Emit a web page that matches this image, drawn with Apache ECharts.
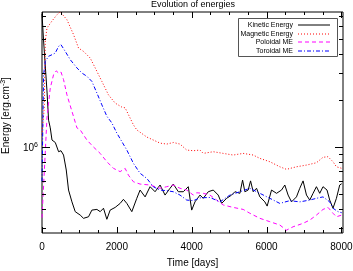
<!DOCTYPE html>
<html><head><meta charset="utf-8">
<script src="https://cdn.jsdelivr.net/npm/echarts@6/dist/echarts.min.js"></script>
<style>html,body{margin:0;padding:0;background:#fff}#c{width:353px;height:271px}</style>
</head><body><div id="c"></div>
<script>
// values in units of 1e6 erg.cm^-3, x in days
const kinetic = [[0,7.2],[43,4.83],[133,2.30],[176,1.49],[221,1.33],[267,1.11],[355,1.07],[443,0.933],[507,0.947],[576,0.888],[648,0.711],[709,0.528],[800,0.443],[888,0.383],[1021,0.364],[1109,0.347],[1243,0.355],[1333,0.392],[1467,0.396],[1555,0.383],[1643,0.403],[1733,0.342],[1821,0.392],[1955,0.408],[2088,0.433],[2176,0.46],[2267,0.433],[2400,0.383],[2533,0.467],[2621,0.528],[2755,0.477],[2888,0.555],[3021,0.515],[3155,0.569],[3288,0.49],[3421,0.542],[3509,0.577],[3643,0.515],[3776,0.515],[3909,0.555],[4000,0.392],[4088,0.443],[4221,0.49],[4309,0.467],[4443,0.515],[4576,0.528],[4709,0.49],[4800,0.433],[4933,0.467],[5067,0.49],[5155,0.515],[5288,0.503],[5360,0.612],[5421,0.515],[5509,0.528],[5573,0.605],[5643,0.515],[5733,0.542],[5821,0.477],[5955,0.443],[6016,0.416],[6133,0.528],[6267,0.503],[6400,0.528],[6488,0.569],[6576,0.49],[6667,0.443],[6800,0.477],[6888,0.542],[6976,0.605],[7067,0.49],[7155,0.455],[7243,0.503],[7333,0.555],[7421,0.503],[7509,0.555],[7616,0.528],[7688,0.455],[7776,0.403],[7867,0.467],[7955,0.569],[8008,0.58]];
const magnetic = [[0,1.2],[60,1.79],[88,4.83],[133,5.86],[267,6.5],[400,7.14],[488,7.45],[667,6.62],[843,5.31],[976,4.35],[1109,4.14],[1288,3.75],[1421,3.24],[1600,2.65],[1776,2.17],[1955,1.92],[2133,1.81],[2221,1.79],[2309,1.62],[2443,1.39],[2533,1.29],[2800,1.16],[3155,1.06],[3333,1.045],[3509,1.07],[3688,1.045],[3867,0.956],[4043,0.947],[4221,0.956],[4309,0.91],[4576,0.933],[4843,0.91],[5109,0.888],[5376,0.91],[5643,0.888],[5821,0.845],[6088,0.804],[6355,0.746],[6533,0.718],[6800,0.746],[7067,0.765],[7333,0.792],[7509,0.859],[7643,0.866],[7776,0.804],[7867,0.746],[8008,0.729]];
const poloidal = [[0,0.35],[133,1.54],[221,2.4],[309,2.93],[381,3.1],[443,3.0],[507,3.05],[576,2.72],[667,2.17],[800,1.7],[933,1.33],[1021,1.29],[1200,1.11],[1376,1.0],[1555,0.91],[1733,0.804],[1909,0.729],[2088,0.694],[2221,0.729],[2309,0.659],[2443,0.597],[2621,0.577],[2888,0.569],[3155,0.542],[3333,0.555],[3509,0.569],[3688,0.542],[3867,0.528],[4043,0.49],[4133,0.507],[4309,0.503],[4488,0.49],[4667,0.455],[4843,0.423],[5109,0.408],[5376,0.396],[5555,0.374],[5821,0.347],[6088,0.33],[6355,0.314],[6533,0.291],[6709,0.306],[6976,0.322],[7155,0.338],[7333,0.364],[7509,0.396],[7643,0.408],[7776,0.374],[7867,0.355],[8008,0.364]];
const toroidal = [[0,0.6],[43,2.93],[88,3.57],[176,3.85],[267,3.94],[355,4.04],[443,4.46],[507,4.57],[621,4.14],[755,3.66],[933,3.24],[1067,3.0],[1200,2.86],[1333,2.65],[1467,2.23],[1600,1.87],[1733,1.58],[1867,1.43],[2000,1.23],[2267,0.956],[2443,0.785],[2621,0.677],[2800,0.628],[2976,0.554],[3155,0.528],[3333,0.523],[3509,0.515],[3688,0.49],[3867,0.455],[4043,0.451],[4221,0.47],[4488,0.473],[4755,0.443],[5021,0.49],[5288,0.515],[5555,0.542],[5821,0.503],[6088,0.467],[6355,0.433],[6621,0.451],[6888,0.443],[7155,0.455],[7333,0.467],[7509,0.477],[7688,0.443],[7776,0.403],[7909,0.383],[8008,0.377]];

const seriesNames = ['Kinetic Energy','Magnetic Energy','Poloidal ME','Toroidal ME'];
const seriesColors = ['#000000','#ff0000','#ff00ff','#0000ff'];
const seriesDash = ['solid',[1,2],[4,3],[4,2,1,2]];
const xTickVals = [0,500,1000,1500,2000,2500,3000,3500,4000,4500,5000,5500,6000,6500,7000,7500,8000];
const xMajorTicks = [0,2000,4000,6000,8000];
const yTickVals = [3e5,4e5,5e5,6e5,7e5,8e5,9e5,1e6,2e6,3e6,4e6,5e6,6e6,7e6];
const yMajorTicks = [1e6];
const yMin = 2.79e5, yMax = 7.43e6, xMin = 0, xMax = 8043;

const FONT = '"Liberation Sans", Arial, Helvetica, sans-serif';
const toData = arr => arr.map(p => [p[0], p[1] * 1e6]);

const chart = echarts.init(document.getElementById('c'), null, {renderer: 'canvas'});

function lineSeries(i, data) {
  return {
    name: seriesNames[i], type: 'line', data: toData(data), symbol: 'none', showSymbol: false,
    lineStyle: {color: seriesColors[i], width: 1, type: seriesDash[i]}, itemStyle: {color: seriesColors[i]},
    animation: false, silent: true
  };
}

// legend box drawn as graphic (right-aligned labels, line samples)
const legendChildren = [
  {type: 'rect', shape: {x: 238.5, y: 18.5, width: 99, height: 38},
   style: {fill: '#fff', stroke: '#555', lineWidth: 1}}
];
seriesNames.forEach((n, i) => {
  const y = 25 + Math.round(i * 8.5);
  legendChildren.push({type: 'text', x: 293, y: y + 0.5,
    style: {text: n, align: 'right', verticalAlign: 'middle', font: '7px ' + FONT, fill: '#000'}});
  legendChildren.push({type: 'line', shape: {x1: 298, y1: y, x2: 330, y2: y},
    style: {stroke: seriesColors[i], lineWidth: 1,
      lineDash: seriesDash[i] === 'solid' ? null : seriesDash[i]}});
});

chart.setOption({
  animation: false,
  title: {text: 'Evolution of energies', left: 151, top: 0, padding: 0,
    textStyle: {fontSize: 9, fontWeight: 'normal', color: '#000', fontFamily: FONT}},
  grid: {left: 42, right: 10, top: 12, bottom: 38, show: true, borderColor: '#000', borderWidth: 1,
    backgroundColor: 'transparent', containLabel: false, outerBoundsMode: 'none'},
  graphic: [{type: 'group', z: 100, children: legendChildren}],
  xAxis: {
    type: 'value', min: xMin, max: xMax, interval: 2000,
    axisLine: {show: false}, axisTick: {show: false}, splitLine: {show: false},
    axisLabel: {fontSize: 10, color: '#000', fontFamily: FONT, margin: 9,
      formatter: v => (xMajorTicks.indexOf(v) >= 0 ? String(v) : '')},
    name: 'Time [days]', nameLocation: 'middle', nameGap: 25,
    nameTextStyle: {fontSize: 10, color: '#000', fontFamily: FONT}
  },
  yAxis: {
    type: 'log', min: yMin, max: yMax, logBase: 10,
    axisLine: {show: false}, axisTick: {show: false}, splitLine: {show: false},
    axisLabel: {show: false},
    name: 'Energy [erg.cm{s|-3}]', nameLocation: 'middle', nameGap: 29, nameRotate: 90,
    nameTextStyle: {fontSize: 10, color: '#000', fontFamily: FONT, padding: [0, 0, 0, 14],
      rich: {s: {fontSize: 7, verticalAlign: 'top', padding: [0, 0, 6, 0], fontFamily: FONT, color: '#000'}}}
  },
  series: [
    lineSeries(0, kinetic),
    lineSeries(1, magnetic),
    lineSeries(2, poloidal),
    lineSeries(3, toroidal),
    {
      type: 'custom', name: 'xticks', silent: true, z: 10,
      data: xTickVals.map(v => [v, 1e6]),
      renderItem: (params, api) => {
        const cs = params.coordSys;
        const v = api.value(0);
        const x = Math.round(api.coord([v, 1e6])[0]) + 0.5;
        const len = xMajorTicks.indexOf(v) >= 0 ? 6 : 3;
        const b = cs.y + cs.height, t = cs.y;
        return {type: 'group', children: [
          {type: 'line', shape: {x1: x, y1: b, x2: x, y2: b - len}, style: {stroke: '#000', lineWidth: 1}},
          {type: 'line', shape: {x1: x, y1: t, x2: x, y2: t + len}, style: {stroke: '#000', lineWidth: 1}}
        ]};
      }
    },
    {
      type: 'custom', name: 'yticks', silent: true, z: 10,
      data: yTickVals.map(v => [1000, v]),
      renderItem: (params, api) => {
        const cs = params.coordSys;
        const v = api.value(1);
        const y = Math.round(api.coord([1000, v])[1]) + 0.5;
        const major = yMajorTicks.indexOf(v) >= 0;
        const len = major ? 8 : 4;
        const l = cs.x, r = cs.x + cs.width;
        const children = [
          {type: 'line', shape: {x1: l, y1: y, x2: l + len, y2: y}, style: {stroke: '#000', lineWidth: 1}},
          {type: 'line', shape: {x1: r, y1: y, x2: r - len, y2: y}, style: {stroke: '#000', lineWidth: 1}}
        ];
        if (major) {
          children.push({type: 'text', x: l - 4, y: y + 1, style: {
            text: '{b|10}{s|6}', align: 'right', verticalAlign: 'middle', fill: '#000',
            font: '10px ' + FONT,
            rich: {b: {fontSize: 10, fontFamily: FONT, fill: '#000'},
                   s: {fontSize: 7, fontFamily: FONT, fill: '#000', verticalAlign: 'top', padding: [0, 0, 6, 0]}}
          }});
        }
        return {type: 'group', children};
      }
    }
  ]
});
</script></body></html>
